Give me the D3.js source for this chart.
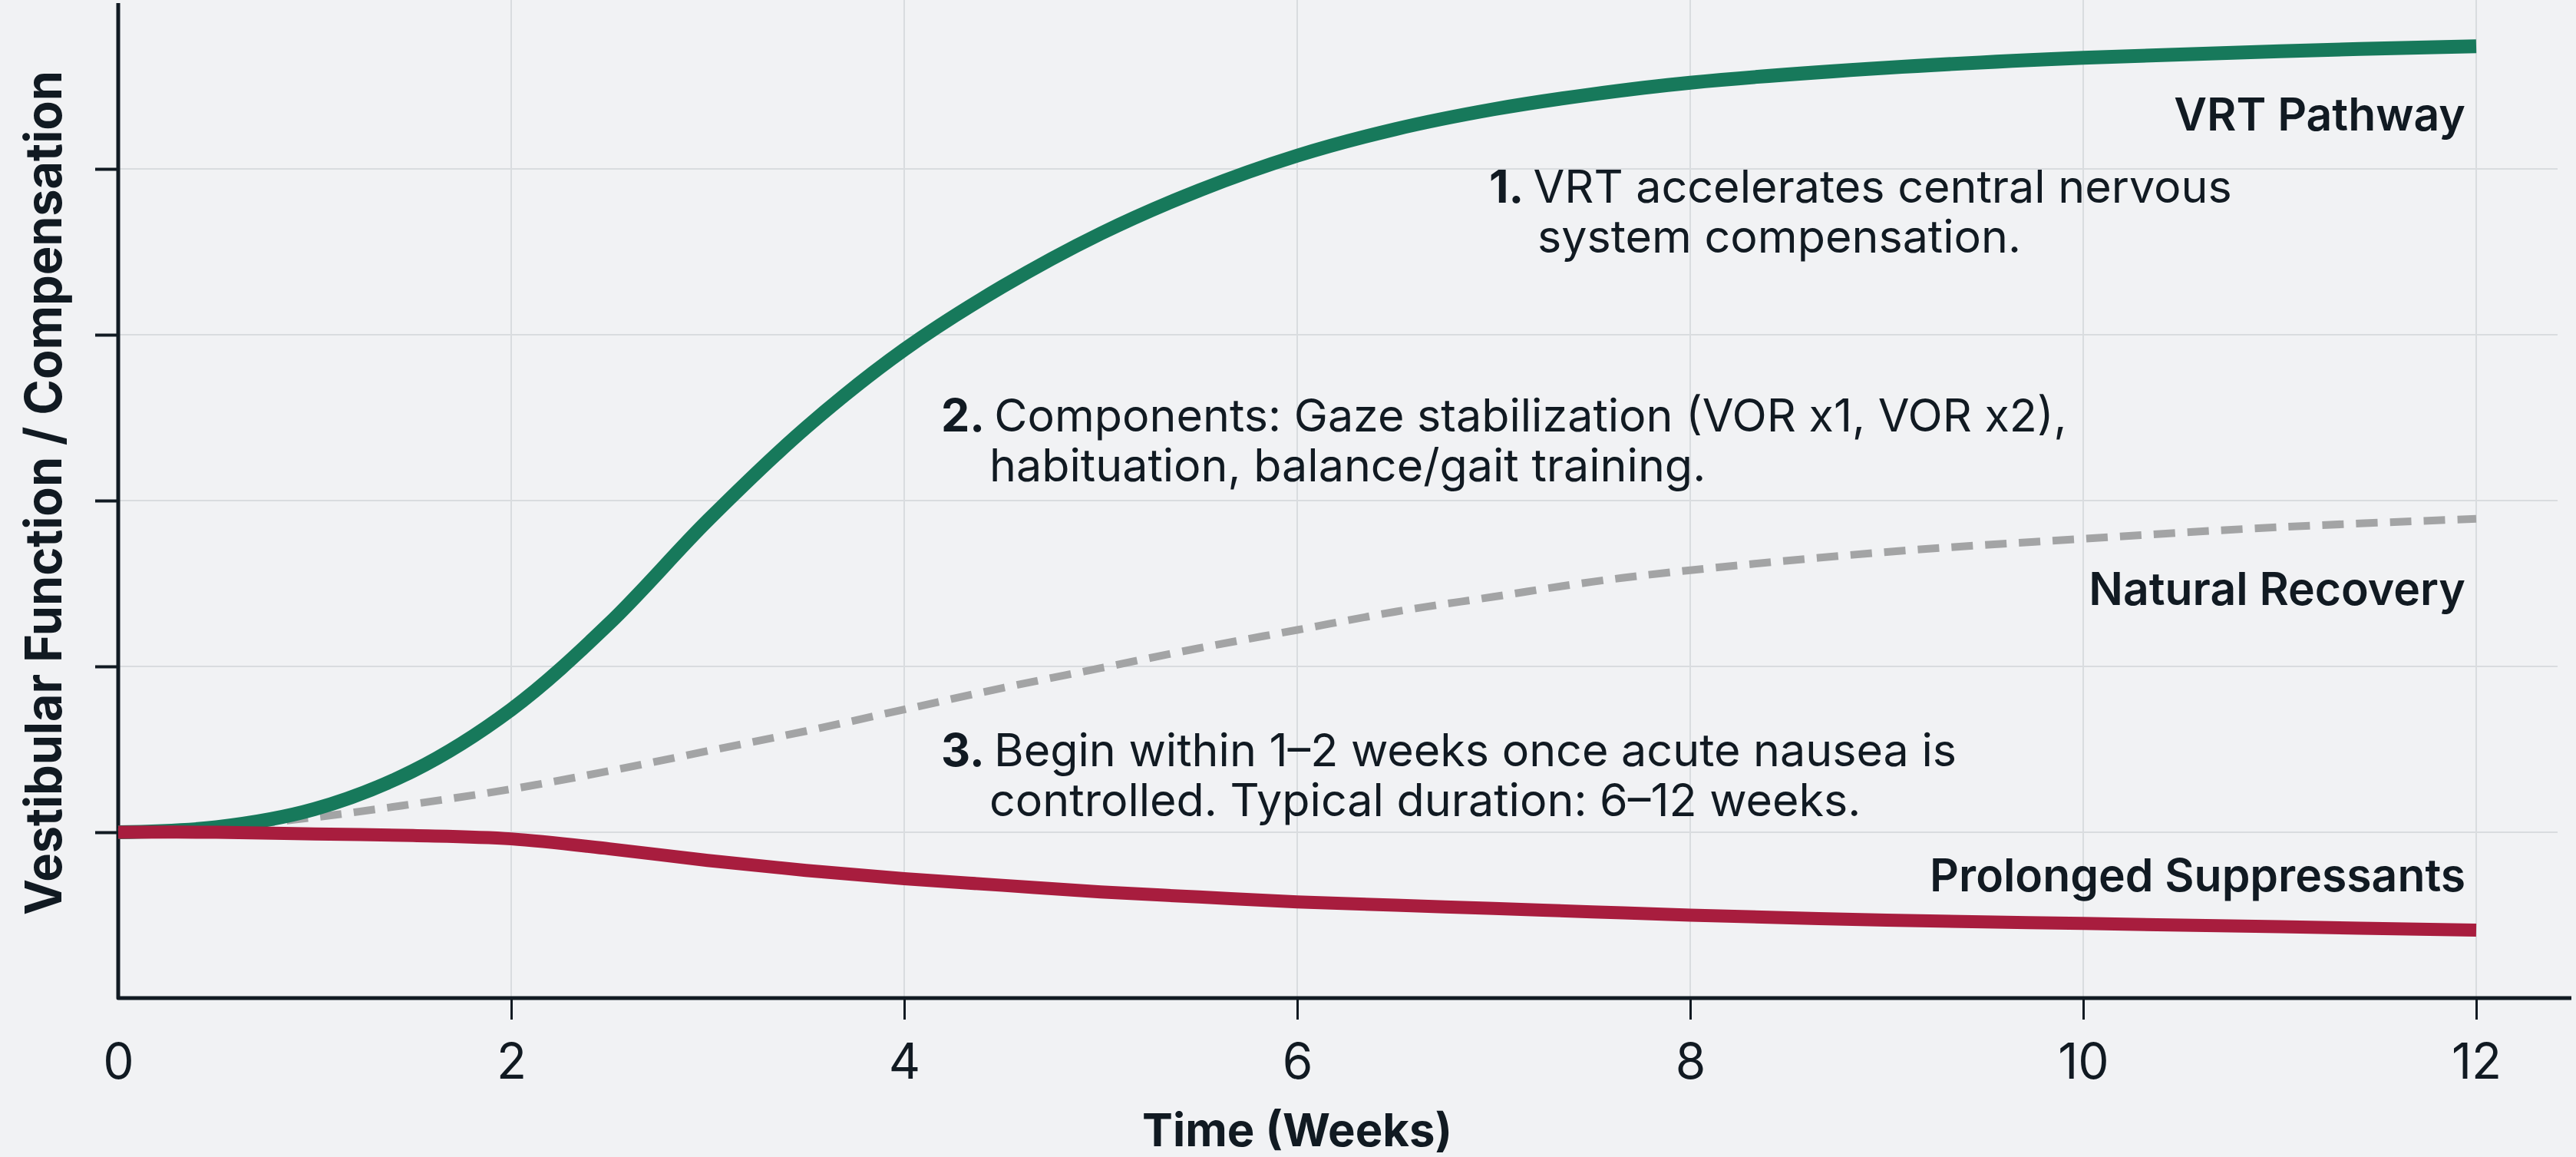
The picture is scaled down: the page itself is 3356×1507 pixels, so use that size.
<!DOCTYPE html>
<html>
<head>
<meta charset="utf-8">
<script src="https://cdn.jsdelivr.net/npm/d3@7"></script>
<style>
  body { margin: 0; background: #f1f2f4; }
  svg { display: block; font-family: Inter, "Noto Sans", sans-serif; }
</style>
</head>
<body>
<div id="chart"></div>
<script>
// ---- data ----
var weeks         = [0, 0.5, 1, 1.5, 2, 2.5, 3, 3.5, 4, 4.5, 5, 5.5, 6, 6.5, 7, 7.5, 8, 9, 10, 11, 12];
var vrtValues     = [0, 0.03, 0.14, 0.37, 0.74, 1.26, 1.88, 2.44, 2.91, 3.29, 3.61, 3.87, 4.08, 4.24, 4.36, 4.45, 4.52, 4.61, 4.67, 4.71, 4.74];
var naturalValues = [0, 0.03, 0.09, 0.17, 0.26, 0.37, 0.49, 0.61, 0.74, 0.87, 0.99, 1.11, 1.22, 1.33, 1.42, 1.51, 1.58, 1.69, 1.77, 1.84, 1.89];
var suppValues    = [0, 0, -0.01, -0.02, -0.04, -0.10, -0.17, -0.23, -0.28, -0.32, -0.36, -0.39, -0.42, -0.44, -0.46, -0.48, -0.50, -0.53, -0.55, -0.57, -0.59];

var seriesNames = ["Natural Recovery", "VRT Pathway", "Prolonged Suppressants"];
var xTickValues = [0, 2, 4, 6, 8, 10, 12];
var yTickValues = [0, 1, 2, 3, 4];
var xTitle = "Time (Weeks)";
var yTitle = "Vestibular Function / Compensation";
var noteNumbers = ["1.", "2.", "3."];
var noteLines = [
  ["VRT accelerates central nervous", "system compensation."],
  ["Components: Gaze stabilization (VOR x1, VOR x2),", "habituation, balance/gait training."],
  ["Begin within 1\u20132 weeks once acute nausea is", "controlled. Typical duration: 6\u201312 weeks."]
];

// ---- layout ----
var W = 3356, H = 1507;
var ink = "#111a22";

var svg = d3.select("#chart").append("svg")
  .attr("width", W)
  .attr("height", H);

svg.append("rect").attr("width", W).attr("height", H).attr("fill", "#f1f2f4");

var x = d3.scaleLinear().domain([0, 12]).range([154, 3226]);
var y = d3.scaleLinear().domain([-1, 5]).range([1300, 4]);

// grid
svg.append("g").selectAll("line")
  .data(xTickValues.slice(1))
  .enter().append("line")
  .attr("x1", function(d) { return x(d); })
  .attr("x2", function(d) { return x(d); })
  .attr("y1", 0)
  .attr("y2", y(-1))
  .attr("stroke", "#d9dcdf")
  .attr("stroke-width", 2);

svg.append("g").selectAll("line")
  .data(yTickValues)
  .enter().append("line")
  .attr("x1", x(0))
  .attr("x2", W - 24)
  .attr("y1", function(d) { return y(d); })
  .attr("y2", function(d) { return y(d); })
  .attr("stroke", "#d9dcdf")
  .attr("stroke-width", 2);

// axes (ticks via d3 axis, the L-shaped frame drawn as one path)
var gx = svg.append("g")
  .attr("transform", "translate(0," + y(-1) + ")")
  .call(d3.axisBottom(x).tickValues(xTickValues).tickSize(28).tickSizeOuter(0));
gx.select(".domain").remove();
gx.attr("font-family", null).attr("font-size", null);
gx.selectAll(".tick line").attr("stroke", ink).attr("stroke-width", 3)
  .filter(function(d) { return d === 0; }).remove();
gx.selectAll(".tick text")
  .attr("y", 105).attr("dy", null)
  .attr("fill", ink)
  .style("font-size", "64px")
  .style("font-weight", 400);

var gy = svg.append("g")
  .attr("transform", "translate(" + x(0) + ",0)")
  .call(d3.axisLeft(y).tickValues(yTickValues).tickSize(30).tickSizeOuter(0).tickFormat(""));
gy.select(".domain").remove();
gy.selectAll(".tick line").attr("stroke", ink).attr("stroke-width", 4);

svg.append("path")
  .attr("d", "M" + x(0) + "," + y(5) + "V" + y(-1) + "H" + (W - 6))
  .attr("fill", "none")
  .attr("stroke", ink)
  .attr("stroke-width", 5)
  .attr("stroke-linejoin", "round");

// lines
var line = d3.line()
  .x(function(d) { return x(d[0]); })
  .y(function(d) { return y(d[1]); })
  .curve(d3.curveCatmullRom.alpha(0.5));

var natural = weeks.map(function(w, i) { return [w, naturalValues[i]]; });
var vrt = weeks.map(function(w, i) { return [w, vrtValues[i]]; });
var supp = weeks.map(function(w, i) { return [w, suppValues[i]]; });

svg.append("path").datum(natural)
  .attr("d", line)
  .attr("fill", "none")
  .attr("stroke", "#a3a4a5")
  .attr("stroke-width", 10)
  .attr("stroke-dasharray", "28 16");

svg.append("path").datum(vrt)
  .attr("d", line)
  .attr("fill", "none")
  .attr("stroke", "#17795b")
  .attr("stroke-width", 18);

svg.append("path").datum(supp)
  .attr("d", line)
  .attr("fill", "none")
  .attr("stroke", "#a81d3e")
  .attr("stroke-width", 17);

// helper: scale a text's font so it spans a given width
function fitFont(sel, target, base) {
  sel.style("font-size", base + "px");
  var w = sel.node().getComputedTextLength();
  var size = base * target / w;
  sel.style("font-size", size + "px");
  return size;
}

// series labels, right aligned
var labelBaselines = [788, 170, 1161];
var labels = svg.append("g").selectAll("text")
  .data(seriesNames)
  .enter().append("text")
  .attr("x", 3212)
  .attr("y", function(d, i) { return labelBaselines[i]; })
  .attr("text-anchor", "end")
  .attr("fill", ink)
  .style("font-weight", 600)
  .text(function(d) { return d; });
var labelSize = fitFont(labels.filter(function(d, i) { return i === 2; }), 698, 60);
labels.style("font-size", labelSize + "px");

// numbered notes
var noteX = [1940, 1226, 1226];
var noteY = [264, 562, 998];
var noteGap = 65;
var noteIndent = 63;
var noteG = svg.append("g").attr("fill", ink);
var noteTexts = [];
noteNumbers.forEach(function(num, i) {
  var t1 = noteG.append("text").attr("x", noteX[i]).attr("y", noteY[i]);
  t1.append("tspan").style("font-weight", 700).text(num + " ");
  t1.append("tspan").style("font-weight", 400).text(noteLines[i][0]);
  var t2 = noteG.append("text")
    .attr("x", noteX[i] + noteIndent)
    .attr("y", noteY[i] + noteGap)
    .style("font-weight", 400)
    .text(noteLines[i][1]);
  noteTexts.push(t1, t2);
});
var noteSize = fitFont(noteTexts[2], 1467, 64);
noteTexts.forEach(function(t) { t.style("font-size", noteSize + "px"); });

// axis titles
var xt = svg.append("text")
  .attr("x", (x(0) + x(12)) / 2)
  .attr("y", 1493)
  .attr("text-anchor", "middle")
  .attr("fill", ink)
  .style("font-weight", 700)
  .text(xTitle);
fitFont(xt, 404, 62);

svg.append("text")
  .attr("transform", "translate(80,642) rotate(-90)")
  .attr("text-anchor", "middle")
  .attr("fill", ink)
  .style("font-weight", 700)
  .style("font-size", "66px")
  .attr("textLength", 1100)
  .attr("lengthAdjust", "spacingAndGlyphs")
  .text(yTitle);
</script>
</body>
</html>
